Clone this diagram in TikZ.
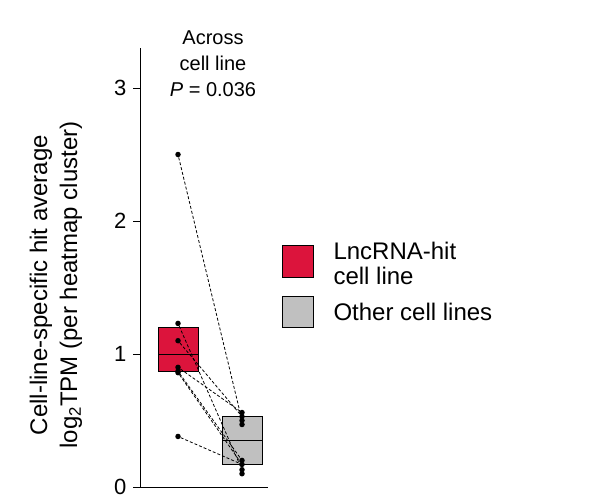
\documentclass[tikz,border=0pt]{standalone}
\usepackage{fontspec}
\setmainfont{Liberation Sans}
\begin{document}
\begin{tikzpicture}[x=1pt,y=-1pt,
  pt/.style={circle,fill=black,inner sep=0,minimum size=5.5pt},
  ln/.style={densely dashed,line width=0.8pt},
  txt/.style={font=\fontsize{20}{26}\selectfont,align=center}]
\useasboundingbox (0,0) rectangle (612,501);
\def\Y#1{487-133*#1}
% axes
\draw[line width=0.7pt] (140,48) -- (140,487) -- (268,487);
\foreach \v in {0,1,2,3}{
  \draw[line width=0.7pt] (133,{\Y{\v}}) -- (140,{\Y{\v}});
  \node[anchor=east,font=\fontsize{22}{24}\selectfont] at (130,{\Y{\v}}) {\v};
}
% boxes
\draw[line width=0.8pt,fill={rgb,255:red,220;green,20;blue,60}] (158,{\Y{1.2}}) rectangle (198,{\Y{0.87}});
\draw[line width=0.8pt] (158,{\Y{1.0}}) -- (198,{\Y{1.0}});
\draw[line width=0.8pt,fill={rgb,255:red,192;green,192;blue,192}] (222,{\Y{0.53}}) rectangle (262,{\Y{0.17}});
\draw[line width=0.8pt] (222,{\Y{0.35}}) -- (262,{\Y{0.35}});
% points
\foreach \n/\v in {a/2.5,b/1.23,c/1.1,d/0.9,e/0.87,f/0.86,g/0.38}
  \node[pt] (r\n) at (178,{\Y{\v}}) {};
\foreach \n/\v in {a/0.56,b/0.53,c/0.5,d/0.47,e/0.2,f/0.17,g/0.13,h/0.1}
  \node[pt] (g\n) at (242,{\Y{\v}}) {};
\draw[ln] (ra) -- (gc);
\draw[ln] (rb) -- (gg);
\draw[ln] (rc) -- (gb);
\draw[ln] (rd) -- (ga);
\draw[ln] (re) -- (ge);
\draw[ln] (rf) -- (gf);
\draw[ln] (rg) -- (gf);
% title
\node[txt] (t) at (213,64) {Across\\cell line\\\textit{P} = 0.036};
% y label
\node[rotate=90,align=center,font=\fontsize{24}{30}\selectfont] (yl) at (56,285)
  {Cell-line-specific hit average\\log\textsubscript{2}TPM (per heatmap cluster)};
% legend
\draw[line width=0.8pt,fill={rgb,255:red,220;green,20;blue,60}] (282,245) rectangle (313,277);
\draw[line width=0.8pt,fill={rgb,255:red,192;green,192;blue,192}] (282,296) rectangle (313,327);
\node[anchor=west,align=left,font=\fontsize{24}{25}\selectfont] (l1) at (330,263) {LncRNA-hit\\cell line};
\node[anchor=west,font=\fontsize{24}{25}\selectfont] (l2) at (330,312) {Other cell lines};
\end{tikzpicture}
\end{document}
